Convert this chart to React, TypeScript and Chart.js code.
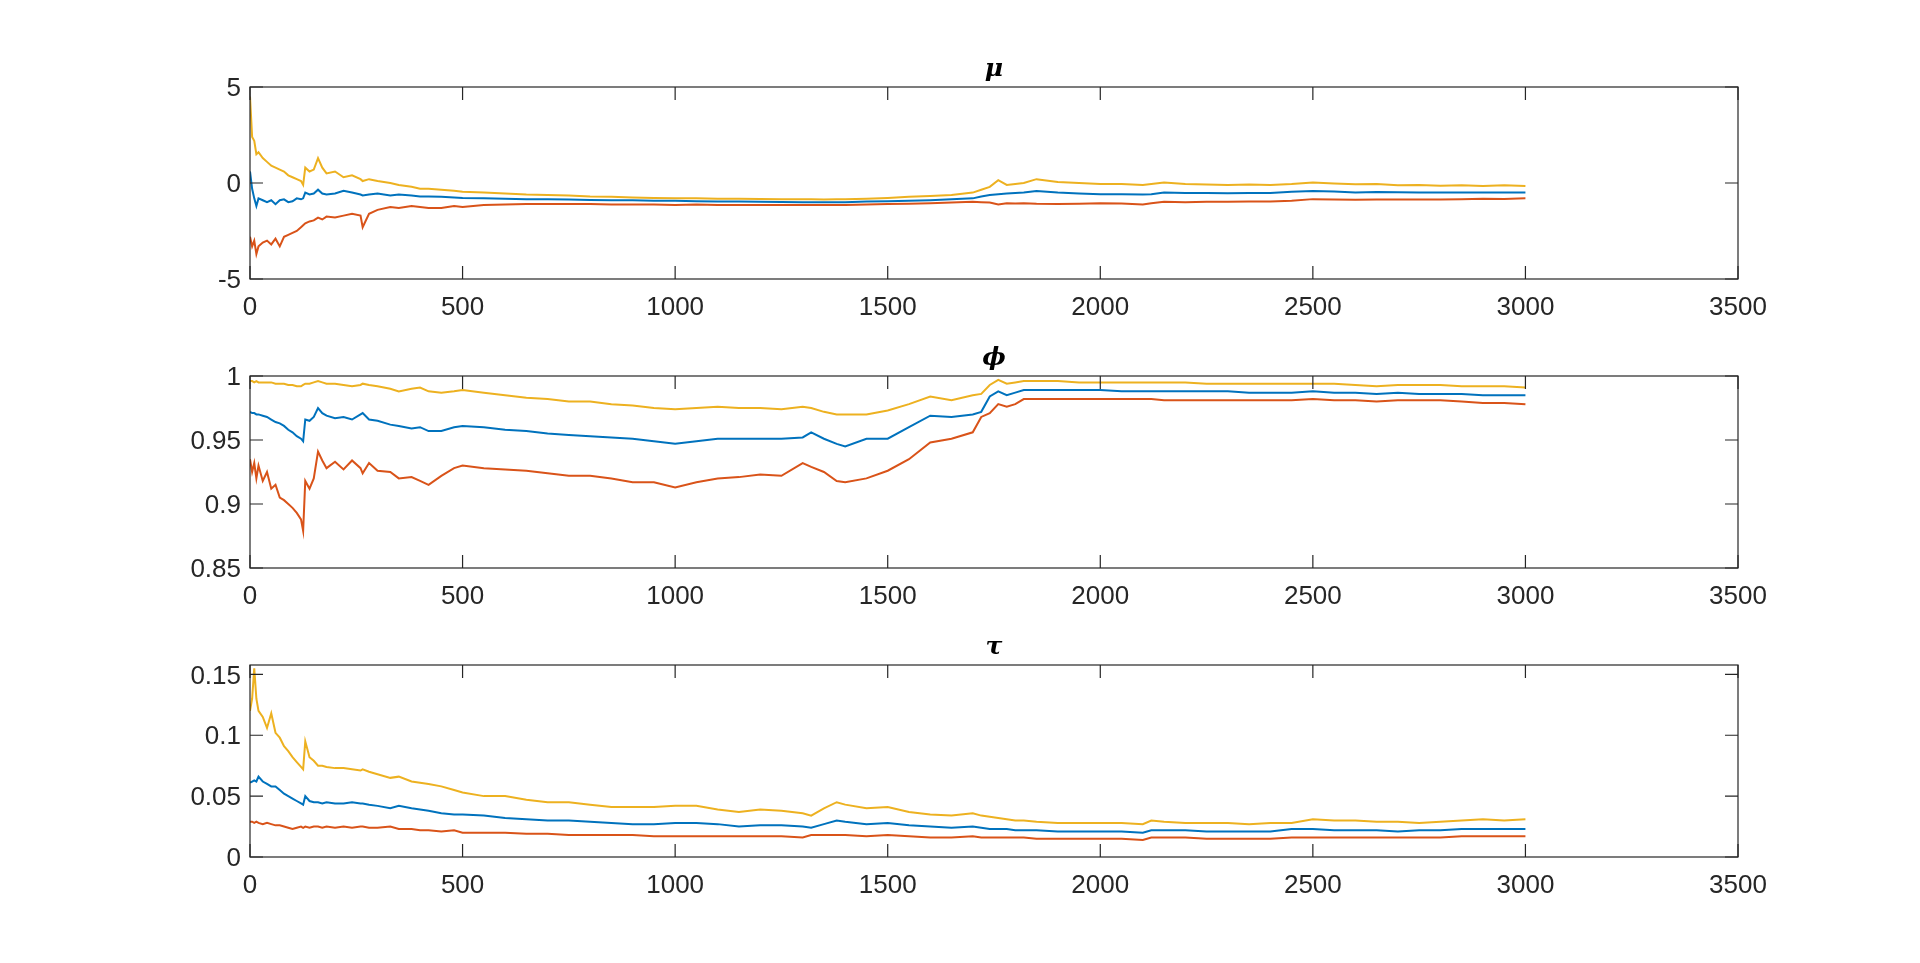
import { useEffect, useRef } from "react";
import { Chart, registerables } from "chart.js";

Chart.register(...registerables);

// sample steps shared by every trace
const STEPS = [
  0, 5, 10, 15, 20, 30, 40, 50, 60, 70,
  80, 90, 100, 110, 120, 125, 130, 140, 150, 160,
  170, 180, 200, 220, 240, 260, 265, 280, 300, 330,
  350, 380, 400, 420, 450, 480, 500, 550, 600, 650,
  700, 750, 800, 850, 900, 950, 1000, 1050, 1100, 1150,
  1200, 1250, 1300, 1320, 1350, 1380, 1400, 1450, 1500, 1550,
  1600, 1650, 1700, 1720, 1740, 1760, 1780, 1800, 1820, 1850,
  1900, 1950, 2000, 2050, 2100, 2120, 2150, 2200, 2250, 2300,
  2350, 2400, 2450, 2500, 2550, 2600, 2650, 2700, 2750, 2800,
  2850, 2900, 2950, 3000,
];

const X_TICKS = [0, 500, 1000, 1500, 2000, 2500, 3000, 3500];

// mu
const MU_MEAN = [
  0.6, -0.3, -0.8, -1.2, -0.8, -0.9, -1.0, -0.9, -1.1, -0.9,
  -0.85, -1.0, -0.95, -0.8, -0.85, -0.8, -0.5, -0.6, -0.55, -0.35,
  -0.55, -0.6, -0.55, -0.4, -0.5, -0.6, -0.65, -0.6, -0.55, -0.65,
  -0.6, -0.65, -0.7, -0.7, -0.72, -0.75, -0.78, -0.8, -0.82, -0.84,
  -0.85, -0.86, -0.88, -0.9, -0.9, -0.92, -0.93, -0.95, -0.96, -0.97,
  -0.98, -0.99, -1.0, -1.0, -1.0, -1.0, -1.0, -0.97, -0.95, -0.93,
  -0.9, -0.85, -0.8, -0.7, -0.62, -0.58, -0.55, -0.52, -0.5, -0.42,
  -0.5, -0.55, -0.58, -0.58, -0.6, -0.58, -0.5, -0.52, -0.52, -0.53,
  -0.52, -0.52, -0.45, -0.42, -0.44, -0.49, -0.47, -0.48, -0.49, -0.5,
  -0.49, -0.5, -0.5, -0.49,
];
const MU_LOWER = [
  -2.8, -3.3, -3.0, -3.7, -3.3, -3.1, -3.0, -3.2, -2.9, -3.3,
  -2.8, -2.7, -2.6, -2.5, -2.3, -2.2, -2.1, -2.0, -1.95, -1.8,
  -1.9, -1.75, -1.8, -1.7, -1.6, -1.7, -2.3, -1.6, -1.4, -1.25,
  -1.3, -1.2, -1.25, -1.3, -1.3, -1.2, -1.25, -1.15, -1.12, -1.1,
  -1.1, -1.1, -1.1, -1.12, -1.12, -1.12, -1.14, -1.12, -1.14, -1.14,
  -1.15, -1.15, -1.15, -1.15, -1.15, -1.15, -1.14, -1.12, -1.1, -1.08,
  -1.05, -1.02, -0.98, -1.0, -1.02, -1.12, -1.05, -1.07, -1.05, -1.08,
  -1.1, -1.08, -1.05, -1.07, -1.12, -1.05, -0.98, -1.0, -0.98, -0.98,
  -0.97, -0.96, -0.93, -0.84, -0.86, -0.87, -0.86, -0.86, -0.86, -0.86,
  -0.84, -0.82, -0.83, -0.8,
];
const MU_UPPER = [
  4.5, 2.4, 2.2, 1.5, 1.6, 1.3, 1.1, 0.9, 0.8, 0.7,
  0.6, 0.4, 0.3, 0.2, 0.1, -0.1, 0.8, 0.6, 0.7, 1.3,
  0.8, 0.5, 0.6, 0.3, 0.4, 0.2, 0.1, 0.2, 0.1, 0.0,
  -0.1, -0.2, -0.3, -0.3, -0.35, -0.4, -0.45, -0.5, -0.55, -0.6,
  -0.62, -0.65, -0.7, -0.72, -0.75, -0.78, -0.8, -0.8, -0.82, -0.82,
  -0.83, -0.84, -0.85, -0.85, -0.86, -0.85, -0.84, -0.82, -0.78, -0.72,
  -0.68, -0.62, -0.5, -0.35, -0.2, 0.15, -0.1, -0.05, 0.0, 0.2,
  0.05, 0.0, -0.05, -0.05, -0.1, -0.05, 0.03, -0.05, -0.08, -0.1,
  -0.08, -0.1, -0.05, 0.03, -0.02, -0.07, -0.05, -0.12, -0.1, -0.14,
  -0.12, -0.15, -0.12, -0.16,
];

// phi
const PHI_MEAN = [
  0.972, 0.971, 0.971, 0.97, 0.97, 0.969, 0.968, 0.966, 0.964, 0.963,
  0.961, 0.958, 0.956, 0.953, 0.951, 0.949, 0.966, 0.965, 0.968, 0.975,
  0.971, 0.969, 0.967, 0.968, 0.966, 0.97, 0.971, 0.966, 0.965, 0.962,
  0.961, 0.959, 0.96, 0.957, 0.957, 0.96, 0.961, 0.96, 0.958, 0.957,
  0.955, 0.954, 0.953, 0.952, 0.951, 0.949, 0.947, 0.949, 0.951, 0.951,
  0.951, 0.951, 0.952, 0.956, 0.951, 0.947, 0.945, 0.951, 0.951, 0.96,
  0.969, 0.968, 0.97, 0.972, 0.984, 0.988, 0.985, 0.987, 0.989, 0.989,
  0.989, 0.989, 0.989, 0.988, 0.988, 0.988, 0.988, 0.988, 0.988, 0.988,
  0.987, 0.987, 0.987, 0.988, 0.987, 0.987, 0.986, 0.987, 0.986, 0.986,
  0.986, 0.985, 0.985, 0.985,
];
const PHI_LOWER = [
  0.935, 0.925, 0.932, 0.92, 0.93, 0.918, 0.925, 0.912, 0.915, 0.905,
  0.903, 0.9, 0.897, 0.893, 0.888, 0.879, 0.918, 0.912, 0.92, 0.941,
  0.934, 0.928, 0.933, 0.927, 0.934, 0.928, 0.924, 0.932, 0.926, 0.925,
  0.92, 0.921, 0.918, 0.915, 0.922, 0.928, 0.93, 0.928, 0.927, 0.926,
  0.924, 0.922, 0.922, 0.92, 0.917, 0.917, 0.913, 0.917, 0.92, 0.921,
  0.923, 0.922, 0.932, 0.929, 0.925, 0.918, 0.917, 0.92, 0.926, 0.935,
  0.948, 0.951, 0.956, 0.968, 0.971, 0.978, 0.976, 0.978, 0.982, 0.982,
  0.982, 0.982, 0.982, 0.982, 0.982, 0.982, 0.981, 0.981, 0.981, 0.981,
  0.981, 0.981, 0.981, 0.982, 0.981, 0.981, 0.98, 0.981, 0.981, 0.981,
  0.98, 0.979, 0.979, 0.978,
];
const PHI_UPPER = [
  0.996, 0.996, 0.995, 0.996, 0.995, 0.995, 0.995, 0.995, 0.994, 0.994,
  0.994, 0.993, 0.993, 0.992, 0.992, 0.993, 0.994, 0.994, 0.995, 0.996,
  0.995, 0.994, 0.994, 0.993, 0.992, 0.993, 0.994, 0.993, 0.992, 0.99,
  0.988, 0.99, 0.991, 0.988, 0.987, 0.988, 0.989, 0.987, 0.985, 0.983,
  0.982, 0.98, 0.98, 0.978, 0.977, 0.975, 0.974, 0.975, 0.976, 0.975,
  0.975, 0.974, 0.976, 0.975, 0.972, 0.97, 0.97, 0.97, 0.973, 0.978,
  0.984, 0.981, 0.985, 0.986, 0.993, 0.997, 0.994, 0.995, 0.996, 0.996,
  0.996, 0.995, 0.995, 0.995, 0.995, 0.995, 0.995, 0.995, 0.994, 0.994,
  0.994, 0.994, 0.994, 0.994, 0.994, 0.993, 0.992, 0.993, 0.993, 0.993,
  0.992, 0.992, 0.992, 0.991,
];

// tau
const TAU_MEAN = [
  0.061, 0.062, 0.063, 0.062, 0.066, 0.062, 0.06, 0.058, 0.058, 0.055,
  0.052, 0.05, 0.048, 0.046, 0.044, 0.043, 0.05, 0.046, 0.045, 0.045,
  0.044, 0.045, 0.044, 0.044, 0.045, 0.044, 0.044, 0.043, 0.042, 0.04,
  0.042, 0.04, 0.039, 0.038, 0.036, 0.035, 0.035, 0.034, 0.032, 0.031,
  0.03, 0.03, 0.029, 0.028, 0.027, 0.027, 0.028, 0.028, 0.027, 0.025,
  0.026, 0.026, 0.025, 0.024, 0.027, 0.03, 0.029, 0.027, 0.028, 0.026,
  0.025, 0.024, 0.025, 0.024, 0.023, 0.023, 0.023, 0.022, 0.022, 0.022,
  0.021, 0.021, 0.021, 0.021, 0.02, 0.022, 0.022, 0.022, 0.021, 0.021,
  0.021, 0.021, 0.023, 0.023, 0.022, 0.022, 0.022, 0.021, 0.022, 0.022,
  0.023, 0.023, 0.023, 0.023,
];
const TAU_LOWER = [
  0.029, 0.029, 0.028, 0.029, 0.028, 0.027, 0.028, 0.027, 0.026, 0.026,
  0.025, 0.024, 0.023, 0.024, 0.025, 0.024, 0.025, 0.024, 0.025, 0.025,
  0.024, 0.025, 0.024, 0.025, 0.024, 0.025, 0.025, 0.024, 0.024, 0.025,
  0.023, 0.023, 0.022, 0.022, 0.021, 0.022, 0.02, 0.02, 0.02, 0.019,
  0.019, 0.018, 0.018, 0.018, 0.018, 0.017, 0.017, 0.017, 0.017, 0.017,
  0.017, 0.017, 0.016, 0.018, 0.018, 0.018, 0.018, 0.017, 0.018, 0.017,
  0.016, 0.016, 0.017, 0.016, 0.016, 0.016, 0.016, 0.016, 0.016, 0.015,
  0.015, 0.015, 0.015, 0.015, 0.014, 0.016, 0.016, 0.016, 0.015, 0.015,
  0.015, 0.015, 0.016, 0.016, 0.016, 0.016, 0.016, 0.016, 0.016, 0.016,
  0.017, 0.017, 0.017, 0.017,
];
const TAU_UPPER = [
  0.12, 0.13, 0.155, 0.13, 0.12, 0.115, 0.106, 0.118, 0.102, 0.098,
  0.091, 0.087, 0.082, 0.078, 0.074, 0.072, 0.095, 0.082, 0.079, 0.075,
  0.075, 0.074, 0.073, 0.073, 0.072, 0.071, 0.072, 0.07, 0.068, 0.065,
  0.066, 0.062, 0.061, 0.06, 0.058, 0.055, 0.053, 0.05, 0.05, 0.047,
  0.045, 0.045, 0.043, 0.041, 0.041, 0.041, 0.042, 0.042, 0.039, 0.037,
  0.039, 0.038, 0.036, 0.034, 0.04, 0.045, 0.043, 0.04, 0.041, 0.037,
  0.035, 0.034, 0.036, 0.034, 0.033, 0.032, 0.031, 0.03, 0.03, 0.029,
  0.028, 0.028, 0.028, 0.028, 0.027, 0.03, 0.029, 0.028, 0.028, 0.028,
  0.027, 0.028, 0.028, 0.031, 0.03, 0.03, 0.029, 0.029, 0.028, 0.029,
  0.03, 0.031, 0.03, 0.031,
];

const TITLES = ["μ", "ϕ", "τ"];
const MU_TICKS = [-5, 0, 5];
const PHI_TICKS = [0.85, 0.9, 0.95, 1];
const TAU_TICKS = [0, 0.05, 0.1, 0.15];

// layout (pixels in the 1920x963 figure)
const FIG_W = 1920;
const FIG_H = 963;
const PLOT_LEFT = 250;
const PLOT_RIGHT = 1738;
const PLOT_H = 192;
const PLOT_TOPS = [87, 376, 665];
const TITLE_SIZE = 25;
const TITLE_H = TITLE_SIZE * 1.2 + 3;
const XAXIS_H = 60;
const TICK_LEN = 13;

const BLUE = "#0072BD";
const RED = "#D95319";
const YELLOW = "#EDB120";
const INK = "#262626";
const TICK_FONT = { family: "'Liberation Sans', Arial, sans-serif", size: 26 };

const toPoints = (vals: number[]) => STEPS.map((s, i) => ({ x: s, y: vals[i] }));

// box around the axes with inward ticks on all four sides
const axesBox = {
  id: "axesBox",
  afterDatasetsDraw(chart: any) {
    const { ctx, chartArea, scales } = chart;
    const { left, right, top, bottom } = chartArea;
    ctx.save();
    ctx.strokeStyle = INK;
    ctx.lineWidth = 1.2;
    ctx.strokeRect(left, top, right - left, bottom - top);
    ctx.beginPath();
    scales.x.ticks.forEach((t: any) => {
      const px = scales.x.getPixelForValue(t.value);
      ctx.moveTo(px, bottom);
      ctx.lineTo(px, bottom - TICK_LEN);
      ctx.moveTo(px, top);
      ctx.lineTo(px, top + TICK_LEN);
    });
    scales.y.ticks.forEach((t: any) => {
      const py = scales.y.getPixelForValue(t.value);
      ctx.moveTo(left, py);
      ctx.lineTo(left + TICK_LEN, py);
      ctx.moveTo(right, py);
      ctx.lineTo(right - TICK_LEN, py);
    });
    ctx.stroke();
    ctx.restore();
  },
};

type PanelProps = {
  top: number;
  title: string;
  yMin: number;
  yMax: number;
  yTicks: number[];
  mean: number[];
  lower: number[];
  upper: number[];
};

const Panel = ({ top, title, yMin, yMax, yTicks, mean, lower, upper }: PanelProps) => {
  const chartRef = useRef<HTMLCanvasElement>(null);

  useEffect(() => {
    const line = (data: number[], color: string) => ({
      data: toPoints(data),
      borderColor: color,
      backgroundColor: color,
      borderWidth: 2,
      pointRadius: 0,
      tension: 0,
      fill: false,
    });

    const myChart = new Chart(chartRef.current!, {
      type: "line",
      data: {
        // first dataset is drawn on top
        datasets: [line(upper, YELLOW), line(lower, RED), line(mean, BLUE)],
      },
      options: {
        animation: false,
        responsive: true,
        maintainAspectRatio: false,
        layout: {
          autoPadding: false,
          padding: { left: 0, right: FIG_W - PLOT_RIGHT, top: 0, bottom: 0 },
        },
        plugins: {
          legend: { display: false },
          tooltip: { enabled: false },
          title: {
            display: true,
            text: title,
            fullSize: false,
            color: "#000",
            font: {
              family: "'DejaVu Serif', serif",
              size: TITLE_SIZE,
              style: "italic",
              weight: "bold",
              lineHeight: 1.2,
            },
            padding: { top: 0, bottom: 3 },
          },
        },
        scales: {
          x: {
            type: "linear",
            min: 0,
            max: 3500,
            afterBuildTicks: (s: any) => {
              s.ticks = X_TICKS.map((v) => ({ value: v }));
            },
            afterFit: (s: any) => {
              s.height = XAXIS_H;
            },
            grid: { display: false, drawTicks: false },
            border: { display: false },
            ticks: {
              color: INK,
              font: TICK_FONT,
              padding: 13,
              maxRotation: 0,
              autoSkip: false,
              callback: (v: any) => String(v),
            },
          },
          y: {
            type: "linear",
            min: yMin,
            max: yMax,
            afterBuildTicks: (s: any) => {
              s.ticks = yTicks.map((v) => ({ value: v }));
            },
            afterFit: (s: any) => {
              s.width = PLOT_LEFT;
            },
            grid: { display: false, drawTicks: false },
            border: { display: false },
            ticks: {
              color: INK,
              font: TICK_FONT,
              padding: 9,
              labelOffset: 2,
              autoSkip: false,
              callback: (v: any) => String(v),
            },
          },
        },
      },
      plugins: [axesBox],
    });

    return () => myChart.destroy();
  }, [top, title, yMin, yMax, yTicks, mean, lower, upper]);

  return (
    <div
      style={{
        position: "absolute",
        left: 0,
        top: top - TITLE_H,
        width: FIG_W,
        height: TITLE_H + PLOT_H + XAXIS_H,
      }}
    >
      <canvas ref={chartRef}></canvas>
    </div>
  );
};

const App = () => {
  return (
    <div
      style={{
        position: "fixed",
        left: 0,
        top: 0,
        width: FIG_W,
        height: FIG_H,
        background: "#fff",
        overflow: "hidden",
      }}
    >
      <Panel top={PLOT_TOPS[0]} title={TITLES[0]} yMin={-5} yMax={5} yTicks={MU_TICKS}
        mean={MU_MEAN} lower={MU_LOWER} upper={MU_UPPER} />
      <Panel top={PLOT_TOPS[1]} title={TITLES[1]} yMin={0.85} yMax={1} yTicks={PHI_TICKS}
        mean={PHI_MEAN} lower={PHI_LOWER} upper={PHI_UPPER} />
      <Panel top={PLOT_TOPS[2]} title={TITLES[2]} yMin={0} yMax={0.1577} yTicks={TAU_TICKS}
        mean={TAU_MEAN} lower={TAU_LOWER} upper={TAU_UPPER} />
    </div>
  );
};

export default App;
